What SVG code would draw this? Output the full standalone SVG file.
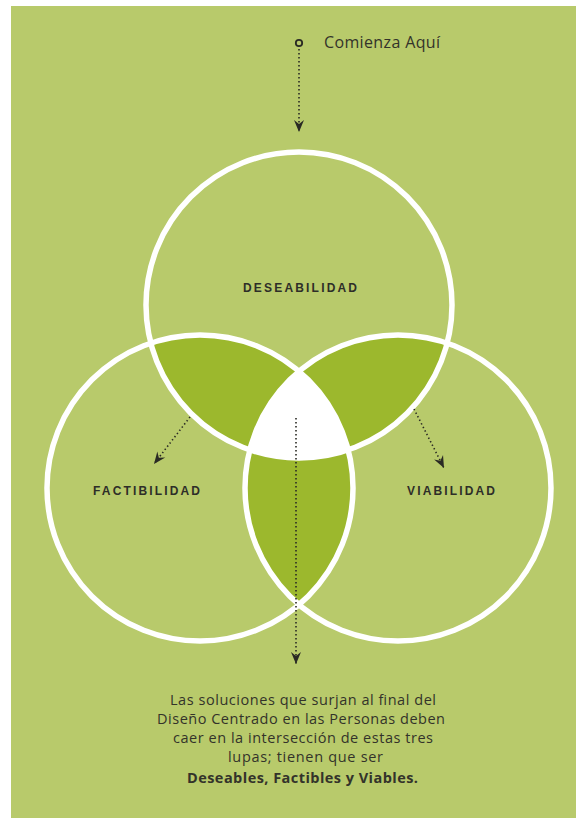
<svg xmlns="http://www.w3.org/2000/svg" width="576" height="818" viewBox="0 0 576 818">
<style>
.lbl{font-family:"Liberation Sans",Arial,sans-serif;font-weight:bold;font-size:12px;fill:#2e2e28}
.body{font-family:"Open Sans","Noto Sans",sans-serif;font-size:14.5px;fill:#33332a}
.ring{fill:none;stroke:#ffffff;stroke-width:5.5}
.dot{fill:none;stroke:#2a2a24;stroke-width:1.6;stroke-dasharray:1.4 2.6}
</style>
<defs>
<clipPath id="cT"><circle cx="299" cy="305" r="153"/></clipPath>
<clipPath id="cL"><circle cx="200" cy="488" r="153"/></clipPath>
<clipPath id="cR"><circle cx="398" cy="488" r="153"/></clipPath>
<clipPath id="cLR" clip-path="url(#cR)"><circle cx="200" cy="488" r="153"/></clipPath>
<marker id="ah" viewBox="-13 -6 14 12" refX="0" refY="0" markerWidth="14" markerHeight="12" markerUnits="userSpaceOnUse" orient="auto">
<path d="M0,0 L-12,-5 L-8,0 L-12,5 Z" fill="#2a2a24"/>
</marker>
</defs>
<rect x="11" y="6" width="565" height="812" fill="#b8ca6b"/>
<g id="lenses">
<circle cx="200" cy="488" r="153" fill="#9cb82d" clip-path="url(#cT)"/>
<circle cx="398" cy="488" r="153" fill="#9cb82d" clip-path="url(#cT)"/>
<circle cx="398" cy="488" r="153" fill="#9cb82d" clip-path="url(#cL)"/>
<circle cx="299" cy="305" r="153" fill="#ffffff" clip-path="url(#cLR)"/>
</g>
<g id="desirability">
<circle class="ring" cx="299" cy="305" r="153"/>
<text class="lbl" x="243" y="292" textLength="114" lengthAdjust="spacing">DESEABILIDAD</text>
</g>
<g id="feasibility">
<circle class="ring" cx="200" cy="488" r="153"/>
<text class="lbl" x="93" y="495" textLength="107" lengthAdjust="spacing">FACTIBILIDAD</text>
</g>
<g id="viability">
<circle class="ring" cx="398" cy="488" r="153"/>
<text class="lbl" x="407" y="495" textLength="88" lengthAdjust="spacing">VIABILIDAD</text>
</g>
<g id="start">
<circle cx="299" cy="43" r="3.2" fill="none" stroke="#2a2a24" stroke-width="1.8"/>
<text x="324" y="48" font-family="'Open Sans','Noto Sans',sans-serif" font-size="16" fill="#33332a" textLength="116" lengthAdjust="spacing">Comienza Aquí</text>
</g>
<g id="connectors">
<line class="dot" x1="299" y1="49" x2="299" y2="132" marker-end="url(#ah)"/>
<line class="dot" x1="190" y1="417" x2="154" y2="464" marker-end="url(#ah)"/>
<line class="dot" x1="414" y1="409" x2="444" y2="468" marker-end="url(#ah)"/>
<line class="dot" x1="296" y1="418" x2="296" y2="664" marker-end="url(#ah)"/>
</g>
<g id="caption">
<text class="body" x="170" y="705" textLength="266" lengthAdjust="spacing">Las soluciones que surjan al final del</text>
<text class="body" x="157" y="724" textLength="288" lengthAdjust="spacing">Diseño Centrado en las Personas deben</text>
<text class="body" x="173" y="743" textLength="260" lengthAdjust="spacing">caer en la intersección de estas tres</text>
<text class="body" x="228" y="762" textLength="155" lengthAdjust="spacing">lupas; tienen que ser</text>
<text class="body" x="187" y="783" font-weight="bold" textLength="231" lengthAdjust="spacing">Deseables, Factibles y Viables.</text>
</g>
</svg>
